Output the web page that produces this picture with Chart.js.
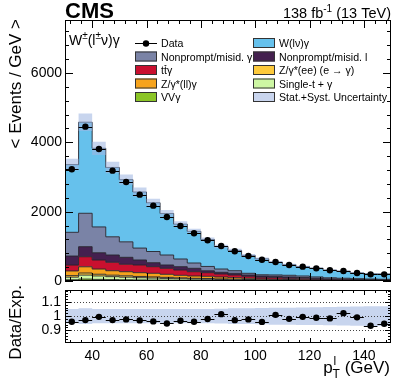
<!DOCTYPE html>
<html>
<head>
<meta charset="utf-8">
<script src="https://cdn.jsdelivr.net/npm/chart.js@4.4.0/dist/chart.umd.min.js"></script>
<style>
  html, body { margin: 0; padding: 0; background: #fff; }
  #wrap { position: relative; width: 407px; height: 391px; }
  #wrap canvas { position: absolute; left: 0; top: 0; }
</style>
</head>
<body>
<div id="wrap">
  <canvas id="mainChart" width="407" height="391"></canvas>
  <canvas id="ratioChart" width="407" height="391"></canvas>
</div>
<script>
const FONT = "'Liberation Sans', Arial, Helvetica, sans-serif";

// Binning (GeV)
const binEdges = [30, 35, 40, 45, 50, 55, 60, 65, 70, 75, 80, 85, 90, 95, 100, 105, 110, 115, 120, 125, 130, 135, 140, 145, 150];
const xTickLabels = [40, 60, 80, 100, 120, 140];
const yTickLabels = [0, 2000, 4000, 6000];
const ratioTickLabels = [0.9, 1, 1.1];

// Observed data (< events / GeV >)
const dataVals = [3224, 4453, 3810, 3184, 2857, 2491, 2174, 1847, 1587, 1376, 1174, 1010, 857, 721, 615, 548, 462, 414, 365, 308, 289, 231, 192, 192];

// Expected contributions, bottom of the stack first
const vvgVals = [35, 55, 46, 40, 35, 30, 27, 24, 21, 18, 16, 13, 12, 10, 8, 6, 6, 5, 4, 4, 3, 3, 3, 2];
const singleTopVals = [75, 115, 99, 85, 75, 65, 58, 51, 44, 37, 34, 29, 24, 20, 17, 14, 12, 10, 9, 7, 7, 6, 5, 5];
const zeeVals = [45, 60, 50, 43, 40, 36, 34, 30, 25, 22, 21, 18, 15, 12, 9, 8, 6, 5, 4, 4, 3, 3, 2, 2];
const zllgVals = [135, 180, 150, 129, 118, 109, 103, 88, 74, 67, 64, 55, 44, 36, 26, 22, 18, 16, 13, 10, 9, 7, 6, 5];
const ttgVals = [170, 290, 260, 243, 214, 222, 191, 173, 153, 124, 105, 87, 78, 57, 47, 45, 36, 26, 20, 15, 13, 11, 10, 8];
const nonpromptLepVals = [260, 290, 210, 210, 201, 144, 115, 96, 96, 98, 55, 49, 49, 38, 37, 40, 40, 38, 28, 20, 17, 14, 12, 11];
const nonpromptPhoVals = [685, 964, 745, 525, 447, 344, 323, 288, 222, 153, 125, 95, 75, 49, 36, 40, 47, 45, 40, 32, 28, 24, 20, 17];
const wgVals = [1953, 2627, 2269, 2001, 1794, 1618, 1407, 1198, 1006, 914, 778, 650, 585, 516, 461, 368, 306, 271, 251, 221, 203, 165, 148, 153];

// Relative stat.+syst. uncertainty on the expectation
const relUnc = [0.05, 0.055, 0.05, 0.05, 0.05, 0.05, 0.05, 0.05, 0.05, 0.05, 0.05, 0.052, 0.055, 0.055, 0.057, 0.06, 0.06, 0.062, 0.063, 0.065, 0.066, 0.068, 0.07, 0.07];

const stackLayers = [
  { label: 'VVγ', vals: vvgVals, color: '#8bc527' },
  { label: 'Single-t + γ', vals: singleTopVals, color: '#cdf7a3' },
  { label: 'Z/γ*(ee) (e → γ)', vals: zeeVals, color: '#fdca3c' },
  { label: 'Z/γ*(ll)γ', vals: zllgVals, color: '#f6a31c' },
  { label: 'ttγ', vals: ttgVals, color: '#c9102f' },
  { label: 'Nonprompt/misid. l', vals: nonpromptLepVals, color: '#44204f' },
  { label: 'Nonprompt/misid. γ', vals: nonpromptPhoVals, color: '#7a83a6' },
  { label: 'W(lν)γ', vals: wgVals, color: '#66c1ec' }
];
const uncFill = 'rgba(160, 182, 226, 0.58)';
const colorOf = (label) => stackLayers.find(l => l.label === label).color;

const nBins = dataVals.length;
const binCenters = binEdges.slice(0, -1).map((e, i) => (e + binEdges[i + 1]) / 2);

// Step points at bin edges (last edge repeats the last bin)
const stepPoints = (vals) => binEdges.map((e, i) => ({ x: e, y: vals[Math.min(i, nBins - 1)] }));

// Build cumulative stack
let running = new Array(nBins).fill(0);
const stackSets = stackLayers.map((layer, k) => {
  running = running.map((v, i) => v + layer.vals[i]);
  return {
    label: layer.label,
    data: stepPoints(running),
    stepped: true,
    fill: k === 0 ? 'origin' : '-1',
    backgroundColor: layer.color,
    borderColor: 'rgba(35, 35, 45, 0.9)',
    borderWidth: 1,
    pointRadius: 0,
    order: k + 1
  };
});
const totalExp = running.slice();
const ratioVals = dataVals.map((d, i) => d / totalExp[i]);

// Rich text helper: parts = [{t, s, dy, bold}]
function drawRich(ctx, parts, x, y, align) {
  const widths = parts.map(p => {
    ctx.font = `${p.bold ? 'bold ' : ''}${p.s}px ${FONT}`;
    return ctx.measureText(p.t).width;
  });
  const total = widths.reduce((a, b) => a + b, 0);
  let cx = align === 'right' ? x - total : x;
  ctx.textAlign = 'left';
  parts.forEach((p, i) => {
    ctx.font = `${p.bold ? 'bold ' : ''}${p.s}px ${FONT}`;
    ctx.fillText(p.t, cx, y + (p.dy || 0));
    if (p.bar) {
      ctx.beginPath();
      ctx.moveTo(cx + 0.5, y + p.bar);
      ctx.lineTo(cx + widths[i] - 0.5, y + p.bar);
      ctx.lineWidth = 0.8;
      ctx.stroke();
    }
    cx += widths[i];
  });
}

// Frame with inward ticks (ROOT style)
const frameTicks = {
  id: 'frameTicks',
  afterDraw(chart, args, o) {
    const { ctx, chartArea: a, scales: { x, y } } = chart;
    ctx.save();
    ctx.strokeStyle = '#000';
    ctx.lineWidth = 1;
    ctx.strokeRect(a.left + 0.5, a.top + 0.5, a.right - a.left - 1, a.bottom - a.top - 1);
    ctx.beginPath();
    o.xTicks.forEach(t => {
      const px = Math.round(x.getPixelForValue(t.v)) + 0.5;
      const len = t.major ? o.xMajor : o.xMinor;
      ctx.moveTo(px, a.bottom); ctx.lineTo(px, a.bottom - len);
      ctx.moveTo(px, a.top); ctx.lineTo(px, a.top + len);
    });
    o.yTicks.forEach(t => {
      const py = Math.round(y.getPixelForValue(t.v)) + 0.5;
      const len = t.major ? o.yMajor : o.yMinor;
      ctx.moveTo(a.left, py); ctx.lineTo(a.left + len, py);
      ctx.moveTo(a.right, py); ctx.lineTo(a.right - len, py);
    });
    ctx.stroke();
    ctx.restore();
  }
};

// Horizontal bin-width bars on the data points
const xErrBars = {
  id: 'xErrBars',
  afterDatasetsDraw(chart, args, o) {
    const { ctx, scales: { x, y } } = chart;
    ctx.save();
    ctx.strokeStyle = '#000';
    ctx.lineWidth = 1;
    ctx.beginPath();
    o.values.forEach((v, i) => {
      const py = Math.round(y.getPixelForValue(v)) + 0.5;
      ctx.moveTo(x.getPixelForValue(binEdges[i]), py);
      ctx.lineTo(x.getPixelForValue(binEdges[i + 1]), py);
    });
    ctx.stroke();
    ctx.restore();
  }
};

const xTickList = [];
for (let v = 32; v <= 148; v += 4) xTickList.push({ v, major: v % 20 === 0 });
const yTickList = [];
for (let v = 0; v <= 7200; v += 400) yTickList.push({ v, major: v % 2000 === 0 });
const ratioTickList = [];
for (let k = 41; k <= 59; k++) ratioTickList.push({ v: k / 50, major: k % 5 === 0 });

// Labels and legend of the top panel
const mainText = {
  id: 'mainText',
  afterDraw(chart) {
    const ctx = chart.ctx;
    ctx.save();
    ctx.fillStyle = '#000';
    ctx.strokeStyle = '#000';
    ctx.textBaseline = 'alphabetic';

    drawRich(ctx, [{ t: 'CMS', s: 22, bold: true }], 65, 18, 'left');
    drawRich(ctx, [{ t: '138 fb', s: 14.5 }, { t: '-1', s: 10, dy: -6 }, { t: ' (13 TeV)', s: 14.5 }], 391, 18, 'right');
    drawRich(ctx, [{ t: 'W', s: 14 }, { t: '±', s: 10, dy: -6 }, { t: '(l', s: 14 }, { t: '±', s: 10, dy: -6 }, { t: 'ν)γ', s: 14 }], 69, 45, 'left');

    ctx.save();
    ctx.translate(21, 19);
    ctx.rotate(-Math.PI / 2);
    ctx.font = `17px ${FONT}`;
    ctx.textAlign = 'right';
    ctx.fillText('< Events / GeV >', 0, 0);
    ctx.restore();

    // Legend, two columns
    const rows = [43, 56.5, 70, 83.5, 97];
    const cols = [135, 253];
    const boxW = 22, boxH = 10;
    const entries = [
      { c: 0, r: 0, marker: true, parts: [{ t: 'Data' }] },
      { c: 1, r: 0, color: colorOf('W(lν)γ'), parts: [{ t: 'W(lν)γ' }] },
      { c: 0, r: 1, color: colorOf('Nonprompt/misid. γ'), parts: [{ t: 'Nonprompt/misid. γ' }] },
      { c: 1, r: 1, color: colorOf('Nonprompt/misid. l'), parts: [{ t: 'Nonprompt/misid. l' }] },
      { c: 0, r: 2, color: colorOf('ttγ'), parts: [{ t: 't' }, { t: 't', bar: -8.5 }, { t: 'γ' }] },
      { c: 1, r: 2, color: colorOf('Z/γ*(ee) (e → γ)'), parts: [{ t: 'Z/γ*(ee) (e → γ)' }] },
      { c: 0, r: 3, color: colorOf('Z/γ*(ll)γ'), parts: [{ t: 'Z/γ*(ll)γ' }] },
      { c: 1, r: 3, color: colorOf('Single-t + γ'), parts: [{ t: 'Single-t + γ' }] },
      { c: 0, r: 4, color: colorOf('VVγ'), parts: [{ t: 'VVγ' }] },
      { c: 1, r: 4, color: '#c9d5ee', parts: [{ t: 'Stat.+Syst. Uncertainty' }] }
    ];
    entries.forEach(e => {
      const bx = cols[e.c], cy = rows[e.r];
      if (e.marker) {
        ctx.beginPath();
        ctx.lineWidth = 1;
        ctx.moveTo(bx, Math.round(cy) + 0.5);
        ctx.lineTo(bx + boxW, Math.round(cy) + 0.5);
        ctx.stroke();
        ctx.beginPath();
        ctx.arc(bx + boxW / 2, cy + 0.5, 3.2, 0, Math.PI * 2);
        ctx.fill();
      } else {
        ctx.fillStyle = e.color;
        ctx.fillRect(bx, cy - boxH / 2, boxW, boxH);
        ctx.lineWidth = 1;
        ctx.strokeStyle = '#333';
        ctx.strokeRect(bx + 0.5, cy - boxH / 2 + 0.5, boxW - 1, boxH - 1);
        ctx.fillStyle = '#000';
        ctx.strokeStyle = '#000';
      }
      drawRich(ctx, e.parts.map(p => ({ ...p, s: 10.6 })), bx + boxW + 4, cy + 4, 'left');
    });
    ctx.restore();
  }
};

// Labels of the ratio panel
const ratioText = {
  id: 'ratioText',
  afterDraw(chart) {
    const ctx = chart.ctx;
    ctx.save();
    ctx.fillStyle = '#000';
    ctx.textBaseline = 'alphabetic';

    ctx.save();
    ctx.translate(21, 285);
    ctx.rotate(-Math.PI / 2);
    ctx.font = `17px ${FONT}`;
    ctx.textAlign = 'right';
    ctx.fillText('Data/Exp.', 0, 0);
    ctx.restore();

    // p_T^l (GeV), right aligned
    ctx.font = `17px ${FONT}`;
    const wp = ctx.measureText('p').width;
    const wRest = ctx.measureText(' (GeV)').width;
    ctx.font = `12px ${FONT}`;
    const wSub = Math.max(ctx.measureText('T').width, ctx.measureText('l').width);
    const x0 = 390 - (wp + wSub + wRest);
    const base = 373;
    ctx.textAlign = 'left';
    ctx.font = `17px ${FONT}`;
    ctx.fillText('p', x0, base);
    ctx.fillText(' (GeV)', x0 + wp + wSub, base);
    ctx.font = `12px ${FONT}`;
    ctx.fillText('T', x0 + wp, base + 5);
    ctx.fillText('l', x0 + wp + 1, base - 8);
    ctx.restore();
  }
};

// Dotted reference lines drawn right after the ratio band
const ratioLines = {
  id: 'ratioLines',
  afterDatasetDraw(chart, args) {
    if (args.index !== 1) return;
    const { ctx, chartArea: a, scales: { y } } = chart;
    ctx.save();
    ctx.strokeStyle = '#444';
    ctx.lineWidth = 1;
    ctx.setLineDash([1, 2]);
    ratioTickLabels.forEach(v => {
      const py = Math.round(y.getPixelForValue(v)) + 0.5;
      ctx.beginPath();
      ctx.moveTo(a.left, py);
      ctx.lineTo(a.right, py);
      ctx.stroke();
    });
    ctx.restore();
  }
};

const mainChart = new Chart(document.getElementById('mainChart'), {
  type: 'line',
  data: {
    datasets: [
      ...stackSets,
      {
        label: 'unc-low',
        data: stepPoints(totalExp.map((t, i) => t * (1 - relUnc[i]))),
        stepped: true, fill: false, borderWidth: 0, pointRadius: 0, order: -5
      },
      {
        label: 'Stat.+Syst. Uncertainty',
        data: stepPoints(totalExp.map((t, i) => t * (1 + relUnc[i]))),
        stepped: true, fill: '-1', backgroundColor: uncFill, borderWidth: 0, pointRadius: 0, order: -5
      },
      {
        label: 'Data',
        data: binCenters.map((x, i) => ({ x, y: dataVals[i] })),
        showLine: false, pointRadius: 3.2, pointBackgroundColor: '#000', pointBorderWidth: 0, order: -10
      }
    ]
  },
  options: {
    responsive: false,
    animation: false,
    layout: { padding: { top: 20, right: 16, bottom: 110, left: 0 } },
    scales: {
      x: { type: 'linear', min: 30, max: 150, display: false },
      y: {
        min: 0, max: 7530,
        afterBuildTicks: (s) => { s.ticks = yTickLabels.map(v => ({ value: v })); },
        afterFit: (s) => { s.width = 65; },
        ticks: { font: { family: FONT, size: 14 }, color: '#000', padding: 3, callback: (v) => String(v) },
        grid: { display: false, drawTicks: false },
        border: { display: false }
      }
    },
    plugins: {
      legend: { display: false },
      tooltip: { enabled: false },
      frameTicks: { xTicks: xTickList, yTicks: yTickList, xMajor: 8, xMinor: 4, yMajor: 8, yMinor: 4 },
      xErrBars: { values: dataVals }
    }
  },
  plugins: [frameTicks, xErrBars, mainText]
});

const ratioChart = new Chart(document.getElementById('ratioChart'), {
  type: 'line',
  data: {
    datasets: [
      {
        label: 'band-low',
        data: stepPoints(relUnc.map(u => 1 - u)),
        stepped: true, fill: false, borderWidth: 0, pointRadius: 0, order: 5
      },
      {
        label: 'band-high',
        data: stepPoints(relUnc.map(u => 1 + u)),
        stepped: true, fill: '-1', backgroundColor: uncFill, borderWidth: 0, pointRadius: 0, order: 5
      },
      {
        label: 'Data/Exp.',
        data: binCenters.map((x, i) => ({ x, y: ratioVals[i] })),
        showLine: false, pointRadius: 3.2, pointBackgroundColor: '#000', pointBorderWidth: 0, order: 0
      }
    ]
  },
  options: {
    responsive: false,
    animation: false,
    layout: { padding: { top: 290, right: 16, bottom: 0, left: 0 } },
    scales: {
      x: {
        type: 'linear', min: 30, max: 150,
        afterBuildTicks: (s) => { s.ticks = xTickLabels.map(v => ({ value: v })); },
        afterFit: (s) => { s.height = 48; },
        ticks: { font: { family: FONT, size: 14 }, color: '#000', padding: 5, maxRotation: 0, autoSkip: false, callback: (v) => String(v) },
        grid: { display: false, drawTicks: false },
        border: { display: false }
      },
      y: {
        min: 0.81, max: 1.185,
        afterBuildTicks: (s) => { s.ticks = ratioTickLabels.map(v => ({ value: v })); },
        afterFit: (s) => { s.width = 65; },
        ticks: { font: { family: FONT, size: 14 }, color: '#000', padding: 4, callback: (v) => String(v) },
        grid: { display: false, drawTicks: false },
        border: { display: false }
      }
    },
    plugins: {
      legend: { display: false },
      tooltip: { enabled: false },
      frameTicks: { xTicks: xTickList, yTicks: ratioTickList, xMajor: 5, xMinor: 3, yMajor: 6, yMinor: 3 },
      xErrBars: { values: ratioVals }
    }
  },
  plugins: [ratioLines, frameTicks, xErrBars, ratioText]
});
</script>
</body>
</html>
